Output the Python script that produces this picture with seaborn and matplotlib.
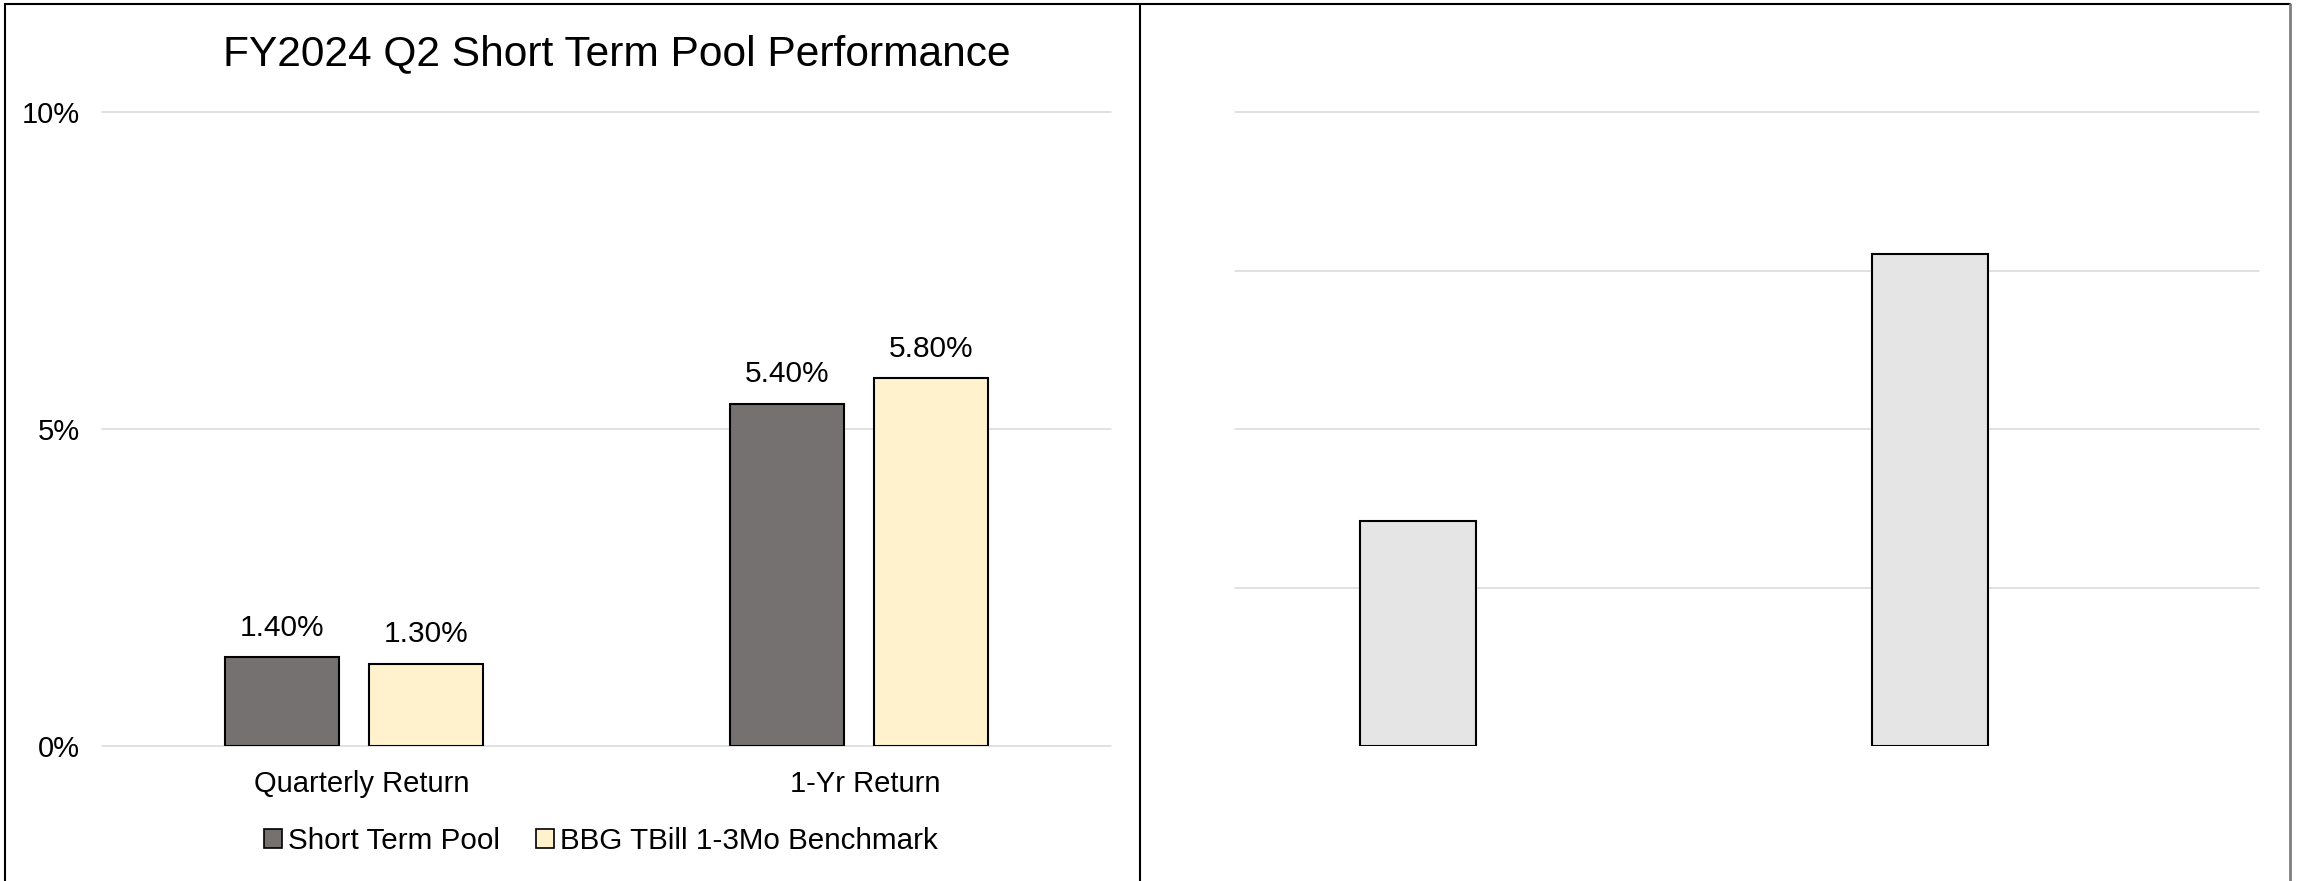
import matplotlib
matplotlib.use("Agg")
import matplotlib.pyplot as plt
import matplotlib.transforms as mtransforms
import seaborn as sns
import pandas as pd
from matplotlib.patches import Patch
from matplotlib.lines import Line2D

# ---- data -------------------------------------------------------------
categories = ["Quarterly Return", "1-Yr Return"]
series_names = ["Short Term Pool", "BBG TBill 1-3Mo Benchmark"]
pool_returns = [1.40, 5.40]          # percent
benchmark_returns = [1.30, 5.80]     # percent
side_panel_values = [2.84, 6.21]     # unlabeled companion panel
y_ticks = [0, 5, 10]
y_tick_labels = ["0%", "5%", "10%"]
title = "FY2024 Q2 Short Term Pool Performance"

pool_color = "#767171"
bench_color = "#FFF2CC"
side_color = "#E5E5E5"
grid_color = "#D9D9D9"

# ---- style ------------------------------------------------------------
sns.set_theme(style="white")
plt.rcParams["font.family"] = ["Liberation Sans", "DejaVu Sans"]
plt.rcParams["text.color"] = "black"
plt.rcParams["xtick.color"] = "black"
plt.rcParams["ytick.color"] = "black"

W, H = 2297, 881
fig = plt.figure(figsize=(W / 100, H / 100), dpi=100)
fig.patch.set_facecolor("white")

def px_rect(x0, y0, x1, y1):
    return [x0 / W, 1 - y1 / H, (x1 - x0) / W, (y1 - y0) / H]

ax = fig.add_axes(px_rect(102, 112, 1111, 746))
ax2 = fig.add_axes(px_rect(1235, 112, 2259, 746))

# ---- main grouped bar chart ------------------------------------------
df = pd.DataFrame({
    "category": categories * 2,
    "series": [series_names[0]] * len(categories) + [series_names[1]] * len(categories),
    "value": pool_returns + benchmark_returns,
})
sns.barplot(data=df, x="category", y="value", hue="series",
            order=categories, hue_order=series_names,
            palette=[pool_color, bench_color], saturation=1,
            width=0.571, gap=0.21, edgecolor="black", linewidth=1.5,
            errorbar=None, legend=False, ax=ax)

shift_right = mtransforms.ScaledTranslation(5 / 100, 0, fig.dpi_scale_trans)
for cont in ax.containers:
    texts = ax.bar_label(cont, labels=[f"{v:.2f}%" for v in cont.datavalues],
                         padding=11, fontsize=21.5)
    for t in texts:
        t.set_transform(t.get_transform() + shift_right)

ax.set_ylim(0, 10)
ax.set_yticks(y_ticks)
ax.set_yticklabels(y_tick_labels, fontsize=21)
ax.tick_params(axis="y", length=0, pad=16)
ax.tick_params(axis="x", length=0, pad=17, labelsize=21)
label_shift = mtransforms.ScaledTranslation(7 / 100, 0, fig.dpi_scale_trans)
for lbl in ax.get_xticklabels():
    lbl.set_transform(lbl.get_transform() + label_shift)
ax.set_xlabel("")
ax.set_ylabel("")
ax.set_title(title, fontsize=30.6, pad=34, x=0.51)

# ---- companion panel (first series slot only) ------------------------
df2 = pd.DataFrame({
    "category": categories,
    "series": [series_names[0]] * len(categories),
    "value": side_panel_values,
})
sns.barplot(data=df2, x="category", y="value", hue="series",
            order=categories, hue_order=series_names, dodge=True,
            palette={series_names[0]: side_color, series_names[1]: side_color},
            saturation=1, width=0.571, gap=0.21, edgecolor="black",
            linewidth=1.5, errorbar=None, legend=False, ax=ax2)
ax2.set_ylim(0, 8)
ax2.set_yticks([2, 4, 6, 8])
ax2.set_yticklabels([])
ax2.set_xticklabels([])
ax2.tick_params(length=0)
ax2.set_xlabel("")
ax2.set_ylabel("")

for a in (ax, ax2):
    a.set_xlim(-0.5, 1.5)
    a.set_axisbelow(True)
    a.yaxis.grid(True, color=grid_color, linewidth=1.1)
    a.xaxis.grid(False)
    for gl in a.get_ygridlines():
        gl.set_clip_on(False)
    for s in a.spines.values():
        s.set_visible(False)
    a.set_facecolor("none")

# ---- legend ----------------------------------------------------------
handles = [Patch(facecolor=pool_color, edgecolor="black", linewidth=1.2),
           Patch(facecolor=bench_color, edgecolor="black", linewidth=1.2)]
fig.legend(handles, series_names, loc="center", ncol=2,
           bbox_to_anchor=(601 / W, 1 - 841 / H), frameon=False,
           fontsize=21.3, handlelength=0.62, handleheight=0.62,
           handletextpad=0.2, columnspacing=1.2, borderaxespad=0)

# ---- panel frames ----------------------------------------------------
def fig_line(xs, ys, color="black", lw=1.5):
    fig.add_artist(Line2D([x / W for x in xs], [1 - y / H for y in ys],
                          color=color, linewidth=lw, transform=fig.transFigure))

fig_line([5, 2290], [4, 4])
fig_line([5, 5], [4, H])
fig_line([1140, 1140], [4, H])
fig_line([2290, 2290], [4, H], color="#7F7F7F", lw=2)

fig.savefig("out.png", dpi=100, facecolor="white")
